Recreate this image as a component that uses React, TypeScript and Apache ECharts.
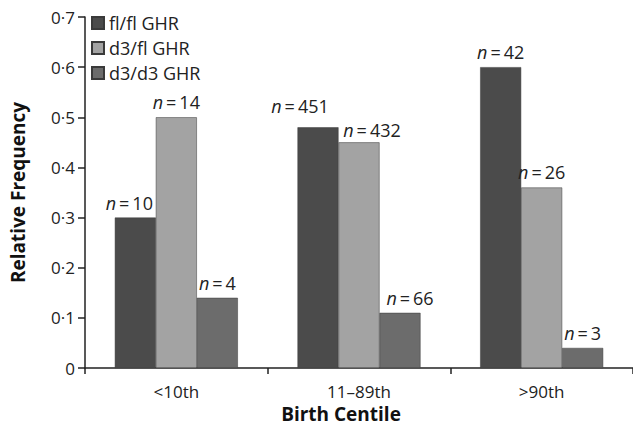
import React, { useEffect, useRef } from "react";
import * as echarts from "echarts";

const categories = ["<10th", "11–89th", ">90th"];
const seriesNames = ["fl/fl GHR", "d3/fl GHR", "d3/d3 GHR"];
const flfl = [0.3, 0.48, 0.6];
const d3fl = [0.5, 0.45, 0.36];
const d3d3 = [0.14, 0.11, 0.04];
const nFlfl = [10, 451, 42];
const nD3fl = [14, 432, 26];
const nD3d3 = [4, 66, 3];
const yTicks = { min: 0, max: 0.7, interval: 0.1 };

const colors = ["#4b4b4b", "#a3a3a3", "#6c6c6c"];
const FONT = "'Open Sans', 'Noto Sans', sans-serif";

export default function App() {
  const ref = useRef<HTMLDivElement>(null);
  useEffect(() => {
    document.body.style.margin = "0";
    if (!ref.current) return;
    const chart = echarts.init(ref.current, undefined, { renderer: "svg" });
    const values = [flfl, d3fl, d3d3];
    const ns = [nFlfl, nD3fl, nD3d3];
    const series = seriesNames.map((name, si) => ({
      name,
      type: "bar",
      barWidth: 41,
      barGap: "0%",
      itemStyle: { color: colors[si], borderColor: "#3a3a3a", borderWidth: 0.5 },
      data: values[si].map((v, i) => {
        const item: any = { value: v, n: ns[si][i] };
        // labels in the crowded middle group are nudged apart, as in the source figure
        if (i === 1) {
          if (si === 0) item.label = { offset: [-18, -6] };
          if (si === 1) item.label = { offset: [13, 3] };
          if (si === 2) item.label = { offset: [10, 0] };
        }
        if (i === 0 && si === 0) item.label = { offset: [-6, 0] };
        return item;
      }),
      label: {
        show: true,
        position: "top",
        distance: 6,
        formatter: (p: any) => `{i|n}{t|\u2009=\u2009${p.data.n}}`,
        rich: {
          i: { fontStyle: "italic", fontSize: 18, color: "#222", fontFamily: FONT },
          t: { fontSize: 18, color: "#222", fontFamily: FONT },
        },
      },
    }));
    chart.setOption({
      animation: false,
      textStyle: { fontFamily: FONT },
      grid: { left: 77, top: 17, width: 561, height: 351, containLabel: false },
      legend: {
        orient: "vertical",
        left: 86,
        top: 8,
        icon: "rect",
        itemWidth: 12,
        itemHeight: 12,
        itemGap: 5,
        textStyle: { fontSize: 18, color: "#222", lineHeight: 20, fontFamily: FONT },
        data: seriesNames,
      },
      xAxis: {
        type: "category",
        data: categories,
        name: "Birth Centile",
        nameLocation: "middle",
        nameGap: 36,
        nameTextStyle: { fontSize: 19, fontWeight: "bold", color: "#111", padding: [0, 36, 0, 0], fontFamily: FONT },
        axisLine: { lineStyle: { color: "#222", width: 1.5 } },
        axisTick: { show: true, length: 6, lineStyle: { color: "#222", width: 1.5 } },
        axisLabel: { fontSize: 17, color: "#222", margin: 15, fontFamily: FONT },
      },
      yAxis: {
        type: "value",
        min: yTicks.min,
        max: yTicks.max,
        interval: yTicks.interval,
        name: "Relative Frequency",
        nameLocation: "middle",
        nameGap: 58,
        nameTextStyle: { fontSize: 19, fontWeight: "bold", color: "#111", fontFamily: FONT },
        axisLine: { show: true, lineStyle: { color: "#222", width: 1.5 } },
        axisTick: { show: true, length: 7, lineStyle: { color: "#222", width: 1.5 } },
        splitLine: { show: false },
        axisLabel: {
          fontSize: 17,
          color: "#222",
          margin: 10,
          fontFamily: FONT,
          formatter: (v: number) => (v === 0 ? "0" : v.toFixed(1).replace(".", "·")),
        },
      },
      series,
    });
    return () => chart.dispose();
  }, []);
  return <div ref={ref} style={{ width: 633, height: 432 }} />;
}
